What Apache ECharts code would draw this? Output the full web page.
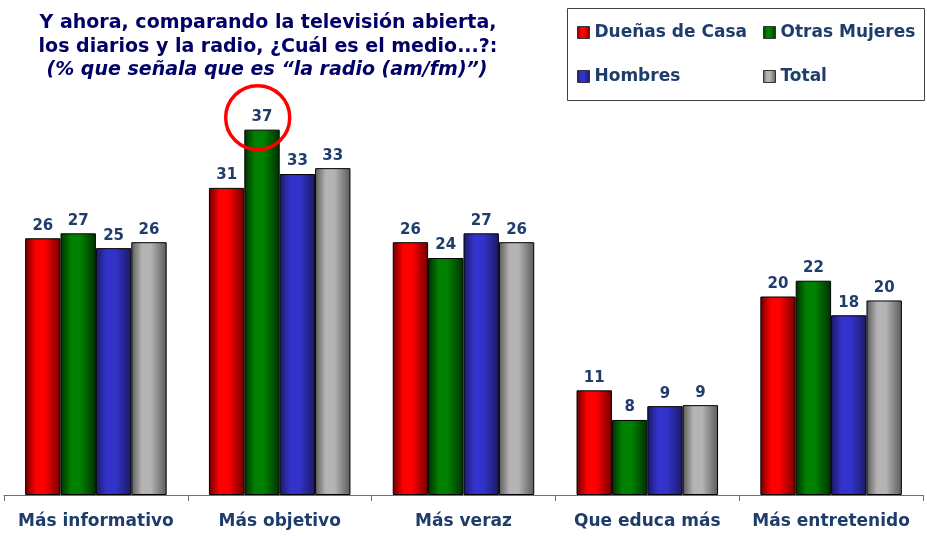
<!DOCTYPE html>
<html><head><meta charset="utf-8">
<script src="https://cdn.jsdelivr.net/npm/echarts@6/dist/echarts.min.js"></script>
<style>html,body{margin:0;padding:0;background:#fff}#c{width:927px;height:536px}</style>
</head><body><div id="c"></div>
<script>
const categories = ['Más informativo', 'Más objetivo', 'Más veraz', 'Que educa más', 'Más entretenido'];
const seriesNames = ['Dueñas de Casa', 'Otras Mujeres', 'Hombres', 'Total'];
const duenas = [26.0, 31.1, 25.6, 10.6, 20.1];
const otras = [26.5, 37.0, 24.0, 7.6, 21.7];
const hombres = [25.0, 32.5, 26.5, 9.0, 18.2];
const total = [25.6, 33.1, 25.6, 9.1, 19.7];
const titleLines = ['Y ahora, comparando la televisión abierta,', 'los diarios y la radio, ¿Cuál es el medio...?:'];
const subtitle = '(% que señala que es “la radio (am/fm)”)';

const palette = [
  ['#6a0000', '#ff0000', '#700000'],
  ['#003000', '#008000', '#003000'],
  ['#1a1a66', '#3333cc', '#1a1a66'],
  ['#5a5a5a', '#b4b4b4', '#5a5a5a']
];
function grad(p) {
  return new echarts.graphic.LinearGradient(0, 0, 1, 0, [
    {offset: 0, color: p[0]}, {offset: 0.3, color: p[1]}, {offset: 0.55, color: p[1]}, {offset: 1, color: p[2]}
  ]);
}
const dataSets = [duenas, otras, hombres, total];
const font = '"DejaVu Sans", Verdana, sans-serif';
const navy = '#1f3d6b';

const chart = echarts.init(document.getElementById('c'), null, {renderer: 'canvas'});
const series = dataSets.map((d, i) => ({
  name: seriesNames[i], type: 'bar', data: d,
  barGap: '0%', barCategoryGap: '23%',
  itemStyle: {color: grad(palette[i]), borderColor: '#000', borderWidth: 1},
  label: {show: true, position: 'top', distance: 5, formatter: p => Math.round(p.value),
    color: navy, fontFamily: font, fontWeight: 'bold', fontSize: 15},
  animation: false
}));

const legendCommon = {orient: 'vertical', top: 24, itemGap: 27, padding: 0,
  itemWidth: 12, itemHeight: 12, icon: 'rect', itemStyle: {borderColor: '#333', borderWidth: 1},
  textStyle: {fontFamily: font, fontWeight: 'bold', fontSize: 17, color: navy}};

const box = {type: 'rect', shape: {x: 567.5, y: 8.5, width: 357, height: 92}, style: {fill: 'none', stroke: '#404040', lineWidth: 1}, z: 100};

chart.setOption({
  animation: false,
  grid: {left: 4, right: 4, top: 100, bottom: 41},
  title: [
    {text: titleLines.join('\n'), left: 263, top: 6, textAlign: 'center',
     textStyle: {fontFamily: font, fontWeight: 'bold', fontSize: 19, color: '#000066', lineHeight: 24}},
    {text: subtitle, left: 262, top: 56, textAlign: 'center',
     textStyle: {fontFamily: font, fontWeight: 'bold', fontStyle: 'italic', fontSize: 19, color: '#000066'}}
  ],
  legend: [
    Object.assign({data: [seriesNames[0], seriesNames[2]], left: 577}, legendCommon),
    Object.assign({data: [seriesNames[1], seriesNames[3]], left: 763}, legendCommon)
  ],
  xAxis: {type: 'category', data: categories,
    axisLine: {lineStyle: {color: '#707070', width: 1}},
    axisTick: {show: true, interval: 0, length: 6, lineStyle: {color: '#707070'}},
    axisLabel: {interval: 0, margin: 18, fontFamily: font, fontWeight: 'bold', fontSize: 17, color: navy}},
  yAxis: {type: 'value', min: 0, max: 40, show: false, splitLine: {show: false}},
  series: series,
  graphic: [box]
});

const p = chart.convertToPixel({xAxisIndex: 0, yAxisIndex: 0}, [1, otras[1]]);
chart.setOption({graphic: [
  box,
  {type: 'circle', shape: {cx: p[0] - 22, cy: p[1] - 12, r: 32}, style: {fill: 'none', stroke: '#ff0000', lineWidth: 3.5}, z: 100}
]});
</script></body></html>
